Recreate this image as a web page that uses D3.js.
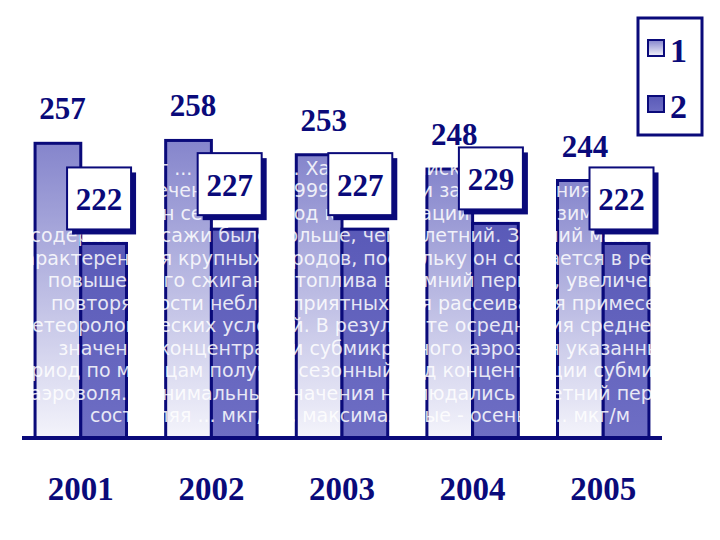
<!DOCTYPE html>
<html><head><meta charset="utf-8">
<script src="https://cdn.jsdelivr.net/npm/d3@7"></script>
<style>body{margin:0;background:#fff}</style>
</head><body>
<svg id="chart" width="720" height="540"></svg>
<script>
// data
const years = ["2001", "2002", "2003", "2004", "2005"];
const series1 = [257, 258, 253, 248, 244];
const series2 = [222, 227, 227, 229, 222];
const legendLabels = ["1", "2"];
// text that shows through the bars
const bgLines = [
  "рассеивания нарушений",
  "огут ... усреднен. Ханты-Андийск регистрации",
  "в течение лет (1999-2005 г.) и за наблюдения",
  "выявлен сезонный ход концентрации сажи: в зимний",
  "содержание сажи было больше, чем в летний. Зимний максимум",
  "арактерен для крупных городов, поскольку он создается в резуль",
  "повышенного сжигания топлива в зимний период, увеличени",
  "повторяемости неблагоприятных для рассеивания примесей",
  "етеорологических условий. В результате осреднения среднемес",
  "значений концентрации субмикронного аэрозоля указанны",
  "риод по месяцам получен сезонный ход концентрации субмикро",
  "аэрозоля. Минимальные значения наблюдались в летний период",
  "составляя ... мкг/м3, максимальные - осенью ... мкг/м"
];

const svg = d3.select("#chart");
const navy = "#0a0a7a";

const x = d3.scaleBand().domain(years).range([22, 662]).paddingInner(0.3).paddingOuter(0.1);
const y = d3.scaleLinear().domain([154, 262]).range([438, 129]);
const bw = x.bandwidth() / 2;

const defs = svg.append("defs");
const g1 = defs.append("linearGradient").attr("id", "g1").attr("x1", 0).attr("y1", 0).attr("x2", 0).attr("y2", 1);
g1.append("stop").attr("offset", "0%").attr("stop-color", "#8585cc");
g1.append("stop").attr("offset", "100%").attr("stop-color", "#f4f4fb");
const g2 = defs.append("linearGradient").attr("id", "g2").attr("x1", 0).attr("y1", 0).attr("x2", 0).attr("y2", 1);
g2.append("stop").attr("offset", "0%").attr("stop-color", "#5a5ab8");
g2.append("stop").attr("offset", "100%").attr("stop-color", "#6e6ec4");

// series 1 bars
svg.selectAll(".b1").data(years).join("rect")
  .attr("x", d => x(d)).attr("y", (d, i) => y(series1[i]))
  .attr("width", bw).attr("height", (d, i) => y(154) - y(series1[i]))
  .attr("fill", "url(#g1)").attr("stroke", navy).attr("stroke-width", 3);

// series 2 bars
svg.selectAll(".b2").data(years).join("rect")
  .attr("x", d => x(d) + bw).attr("y", (d, i) => y(series2[i]))
  .attr("width", bw).attr("height", (d, i) => y(154) - y(series2[i]))
  .attr("fill", "url(#g2)").attr("stroke", navy).attr("stroke-width", 3);

// background text, white over bars
svg.append("g").selectAll("text").data(bgLines).join("text")
  .attr("x", 360).attr("y", (d, i) => 152 + i * 22.5)
  .attr("text-anchor", "middle")
  .attr("font-family", "DejaVu Sans, sans-serif").attr("font-size", 19)
  .attr("fill", "#fff").attr("opacity", 0.85)
  .text(d => d);

// baseline
svg.append("line").attr("x1", 22).attr("x2", 662).attr("y1", y(154)).attr("y2", y(154))
  .attr("stroke", navy).attr("stroke-width", 4);

// series 1 labels
svg.selectAll(".l1").data(years).join("text")
  .attr("x", d => x(d) + bw * 0.6).attr("y", (d, i) => y(series1[i]) - 24)
  .attr("text-anchor", "middle")
  .attr("font-family", "Liberation Serif, serif").attr("font-weight", "bold").attr("font-size", 31)
  .attr("fill", navy).text((d, i) => series1[i]);

// series 2 label boxes
const box = svg.selectAll(".l2").data(years).join("g")
  .attr("transform", (d, i) => `translate(${x(d) + bw * 0.7},${y(series2[i]) - 76})`);
box.append("rect").attr("x", 5).attr("y", 5).attr("width", 64).attr("height", 62).attr("fill", navy);
box.append("rect").attr("width", 64).attr("height", 62).attr("fill", "#fff")
  .attr("stroke", navy).attr("stroke-width", 2);
box.append("text").attr("x", 32).attr("y", 43).attr("text-anchor", "middle")
  .attr("font-family", "Liberation Serif, serif").attr("font-weight", "bold").attr("font-size", 31)
  .attr("fill", navy).text((d, i) => series2[i]);

// year labels
svg.selectAll(".yr").data(years).join("text")
  .attr("x", d => x(d) + bw).attr("y", 500)
  .attr("text-anchor", "middle")
  .attr("font-family", "Liberation Serif, serif").attr("font-weight", "bold").attr("font-size", 33)
  .attr("fill", navy).text(d => d);

// legend
const lg = svg.append("g").attr("transform", "translate(638,18)");
lg.append("rect").attr("width", 64).attr("height", 117).attr("fill", "#fff")
  .attr("stroke", navy).attr("stroke-width", 3);
lg.selectAll(".it").data(legendLabels).join("g")
  .attr("transform", (d, i) => `translate(10,${32 + i * 56})`)
  .call(s => {
    s.append("rect").attr("y", -10).attr("width", 16).attr("height", 16)
      .attr("fill", (d, i) => i ? "url(#g2)" : "url(#g1)").attr("stroke", navy).attr("stroke-width", 2);
    s.append("text").attr("x", 22).attr("y", 12)
      .attr("font-family", "Liberation Serif, serif").attr("font-weight", "bold").attr("font-size", 34)
      .attr("fill", navy).text(d => d);
  });
</script>
</body></html>
